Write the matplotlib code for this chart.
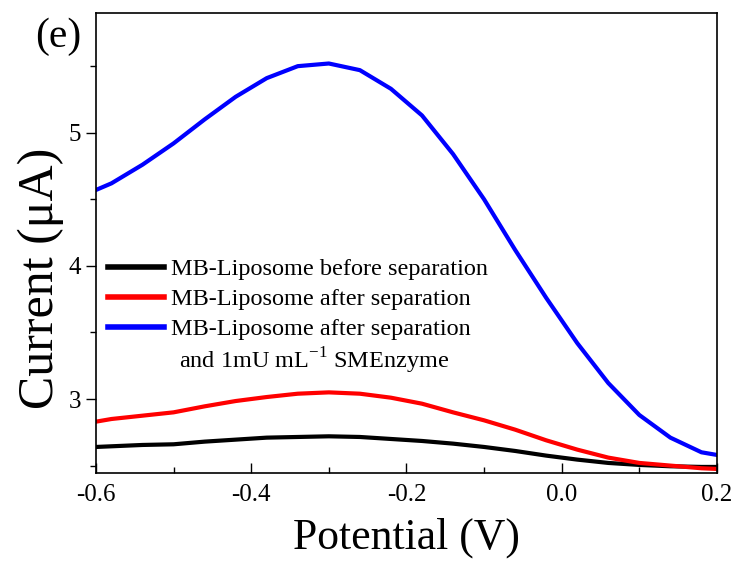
import matplotlib.pyplot as plt
from matplotlib.ticker import MultipleLocator

plt.rcParams['font.family'] = ['Liberation Serif', 'DejaVu Serif']
plt.rcParams['mathtext.fontset'] = 'custom'
plt.rcParams['mathtext.rm'] = 'Liberation Serif'

# Potencial (V)
potential = [-0.60, -0.58, -0.54, -0.50, -0.46, -0.42, -0.38, -0.34, -0.30, -0.26, -0.22,
             -0.18, -0.14, -0.10, -0.06, -0.02, 0.02, 0.06, 0.10, 0.14, 0.18, 0.20]

# Corriente (uA)
before_sep = [2.64, 2.645, 2.655, 2.66, 2.68, 2.695, 2.71, 2.715, 2.72, 2.715, 2.70,
              2.685, 2.665, 2.64, 2.61, 2.575, 2.545, 2.52, 2.505, 2.495, 2.49, 2.49]
after_sep = [2.83, 2.85, 2.875, 2.90, 2.945, 2.985, 3.015, 3.04, 3.05, 3.04, 3.01,
             2.965, 2.90, 2.84, 2.77, 2.69, 2.62, 2.56, 2.52, 2.50, 2.48, 2.475]
after_enzyme = [4.57, 4.62, 4.76, 4.92, 5.10, 5.27, 5.41, 5.50, 5.52, 5.47, 5.33,
                5.13, 4.84, 4.50, 4.12, 3.76, 3.42, 3.12, 2.88, 2.71, 2.60, 2.58]

fig = plt.figure(figsize=(7.38, 5.61), dpi=100)
ax = fig.add_axes([0.130, 0.157, 0.8415, 0.820])

ax.plot(potential, before_sep, color='black', lw=3, label='MB-Liposome before separation')
ax.plot(potential, after_sep, color='red', lw=3, label='MB-Liposome after separation')
ax.plot(potential, after_enzyme, color='blue', lw=3, label='MB-Liposome after separation')

ax.set_xlim(-0.6, 0.2)
ax.set_ylim(2.445, 5.9)
ax.xaxis.set_minor_locator(MultipleLocator(0.1))
ax.yaxis.set_major_locator(MultipleLocator(1))
ax.yaxis.set_minor_locator(MultipleLocator(0.5))
ax.set_xticks([-0.6, -0.4, -0.2, 0.0, 0.2])
ax.set_xticklabels(['-0.6', '-0.4', '-0.2', '0.0', '0.2'])

ax.tick_params(axis='x', which='both', direction='in', labelsize=18, pad=8)
ax.tick_params(axis='x', which='major', length=7, width=1)
ax.tick_params(axis='x', which='minor', length=4, width=1)
ax.tick_params(axis='y', which='both', direction='out', labelsize=18)
ax.tick_params(axis='y', which='major', length=7, width=1)
ax.tick_params(axis='y', which='minor', length=4, width=1)
for sp in ax.spines.values():
    sp.set_linewidth(1.2)

ax.set_xlabel('Potential (V)', fontsize=31.5, labelpad=8)
fig.text(41 / 738, 1 - 278 / 561, 'Current (μA)', fontsize=36, rotation=90,
         ha='center', va='center')

leg = ax.legend(loc='upper left', bbox_to_anchor=(0.0, 0.493), frameon=False,
                fontsize=17.5, handlelength=2.3, handletextpad=0.3,
                borderpad=0, borderaxespad=0.5, labelspacing=0.33)
for line in leg.get_lines():
    line.set_linewidth(4)

ax.text(0.134, 0.2435, 'and 1mU mL$^{-1}$ SMEnzyme', transform=ax.transAxes,
        fontsize=17.5, va='center', ha='left')

fig.text(0.047, 0.935, '(e)', fontsize=30, ha='left', va='center')

fig.savefig('out.png', dpi=100)
